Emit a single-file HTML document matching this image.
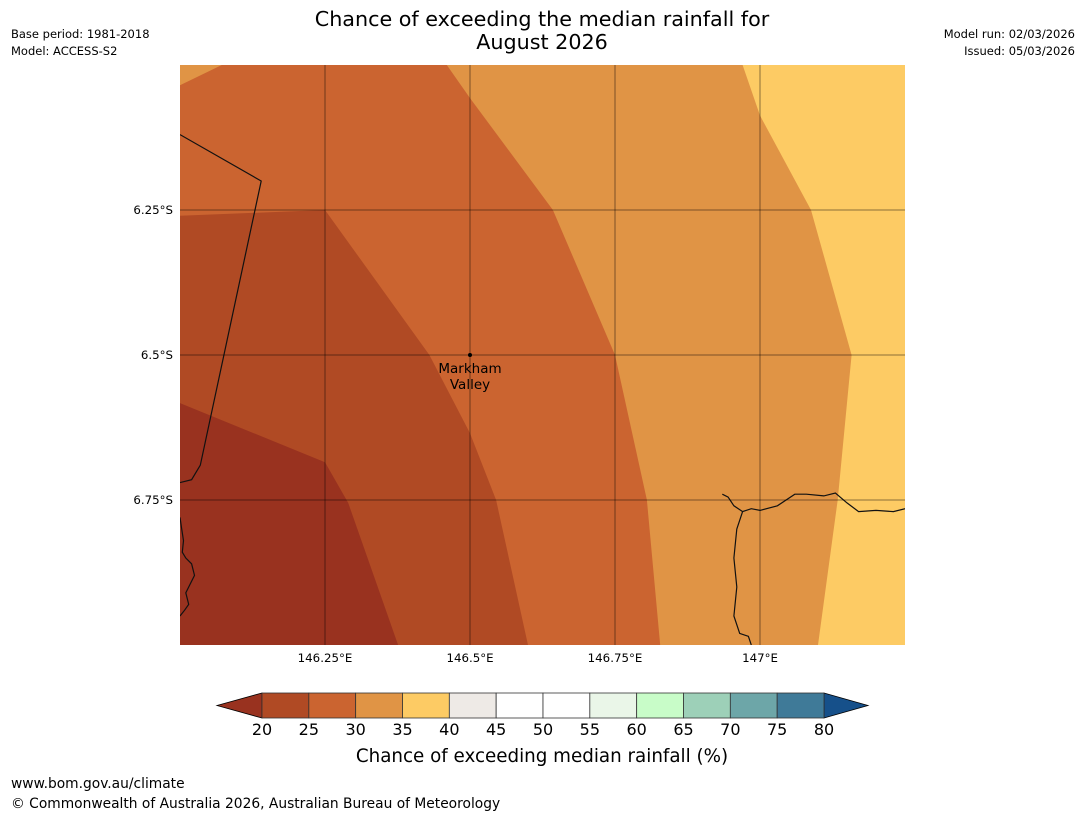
<!DOCTYPE html>
<html><head><meta charset="utf-8">
<style>
html,body{margin:0;padding:0;background:#fff;}
body{width:1085px;height:816px;overflow:hidden;font-family:"Liberation Sans","DejaVu Sans",sans-serif;}
svg text{font-family:"DejaVu Sans","Liberation Sans",sans-serif;}
</style></head>
<body>
<svg id="chart" width="1085" height="816" viewBox="0 0 1085 816" xmlns="http://www.w3.org/2000/svg">
<text x="542" y="26" font-size="20.7" text-anchor="middle">Chance of exceeding the median rainfall for</text>
<text x="542" y="49" font-size="20.7" text-anchor="middle">August 2026</text>
<text x="11" y="38" font-size="11.5">Base period: 1981-2018</text>
<text x="11" y="55" font-size="11.5">Model: ACCESS-S2</text>
<text x="1075" y="38" font-size="11.5" text-anchor="end">Model run: 02/03/2026</text>
<text x="1075" y="55" font-size="11.5" text-anchor="end">Issued: 05/03/2026</text>
<defs><clipPath id="mapclip"><rect x="180" y="65" width="725" height="580"/></clipPath></defs>
<g id="map" clip-path="url(#mapclip)"></g>
<g id="axes"></g>
<g id="cbar"></g>
<text x="542" y="762" font-size="18.3" text-anchor="middle">Chance of exceeding median rainfall (%)</text>
<text x="11" y="788" font-size="13.8">www.bom.gov.au/climate</text>
<text x="11" y="808" font-size="13.8">© Commonwealth of Australia 2026, Australian Bureau of Meteorology</text>
</svg>
<script>
const lonTicks=[146.25,146.5,146.75,147];
const lonLabels=["146.25°E","146.5°E","146.75°E","147°E"];
const latTicks=[6.25,6.5,6.75];
const latLabels=["6.25°S","6.5°S","6.75°S"];
// contour boundaries [lon, latS]
const b20=[[146,6.583],[146.25,6.685],[146.29,6.755],[146.376,7.0]];
const b25=[[146,6.26],[146.25,6.25],[146.43,6.5],[146.5,6.635],[146.545,6.75],[146.6,7.0]];
const b30=[[146.46,6.0],[146.5,6.057],[146.643,6.25],[146.75,6.5],[146.805,6.75],[146.828,7.0]];
const b35=[[146.97,6.0],[147,6.087],[147.088,6.25],[147.158,6.5],[147.134,6.75],[147.1,7.0]];
const topLeftPatch=[[146,6.0],[146.072,6.0],[146,6.035]];
const bandColors=["#99321f","#b04a24","#cb6430","#e09445","#fdcb64"];
const cbColors=["#b04a24","#cb6430","#e09445","#fdcb64","#eeeae6","#ffffff","#ffffff","#eaf6e8","#c8fcc8","#9dd0b8","#6da6a8","#3f7a98"];
const cbTicks=[20,25,30,35,40,45,50,55,60,65,70,75,80];
const cbLow="#99321f", cbHigh="#16508a";
const placeLon=146.5, placeLat=6.5;
const border=[[146,6.12],[146.14,6.2],[146.035,6.69],[146.02,6.715],[146.0,6.72]];
const coastL=[[146,6.78],[146.003,6.80],[146.006,6.82],[146.004,6.84],[146.01,6.85],[146.02,6.86],[146.025,6.88],[146.015,6.90],[146.01,6.91],[146.015,6.93],[146.008,6.94],[146,6.95]];
const coastR=[[146.935,6.74],[146.945,6.745],[146.955,6.76],[146.97,6.77],[146.985,6.765],[147.0,6.768],[147.03,6.76],[147.06,6.74],[147.08,6.74],[147.11,6.743],[147.13,6.738],[147.15,6.755],[147.17,6.77],[147.2,6.768],[147.23,6.77],[147.25,6.765]];
const coastR2=[[146.97,6.77],[146.96,6.80],[146.955,6.85],[146.96,6.90],[146.955,6.95],[146.965,6.98],[146.98,6.985],[146.985,7.0]];

const NS="http://www.w3.org/2000/svg";
function lonToX(lon){return 180+(lon-146)*580;}
function latToY(lat){return 65+(lat-6)*580;}
function mk(t,a,p){const e=document.createElementNS(NS,t);for(const k in a)e.setAttribute(k,a[k]);p.appendChild(e);return e;}
function pts(arr){return arr.map(p=>lonToX(p[0]).toFixed(1)+","+latToY(p[1]).toFixed(1)).join(" ");}
const map=document.getElementById('map'), axes=document.getElementById('axes'), cb=document.getElementById('cbar');
let r=mk('rect',{x:180,y:65,width:725,height:580,fill:bandColors[4]},map);


const bounds=[b35,b30,b25,b20];
const names=['band-35-40','band-30-35','band-25-30','band-20-25'];
const cols=[bandColors[3],bandColors[2],bandColors[1],bandColors[0]];
bounds.forEach((b,i)=>{
  const poly=[[146,6.0]].concat(b).concat([[146,7.0]]);
  if(b[0][1]>6.0) poly.splice(1,0,[146,b[0][1]]);
  const e=mk('polygon',{points:pts(poly),fill:cols[i]},map);
  
  
});
let tp=mk('polygon',{points:pts(topLeftPatch),fill:bandColors[3]},map);


[[border,'state-border'],[coastL,'coastline-west'],[coastR,'coastline-east'],[coastR2,'river-east']].forEach(c=>{
  const e=mk('polyline',{points:pts(c[0]),fill:'none',stroke:'#111','stroke-width':1.2},map);
  
  
});
lonTicks.forEach((v,i)=>{
  const x=lonToX(v);
  const g=mk('line',{x1:x,y1:65,x2:x,y2:645,stroke:'#000','stroke-opacity':0.45,'stroke-width':1},map);
  
  
  const t=mk('text',{x:x,y:662,'font-size':11.8,'text-anchor':'middle'},axes);t.textContent=lonLabels[i];
  
  
});
latTicks.forEach((v,i)=>{
  const y=latToY(v);
  const g=mk('line',{x1:180,y1:y,x2:905,y2:y,stroke:'#000','stroke-opacity':0.45,'stroke-width':1},map);
  
  
  const t=mk('text',{x:173,y:y+4,'font-size':11.8,'text-anchor':'end'},axes);t.textContent=latLabels[i];
  
  
});
const px=lonToX(placeLon), py=latToY(placeLat);
let d=mk('circle',{cx:px,cy:py,r:2,fill:'#000'},axes);


let l1=mk('text',{x:px,y:py+18,'font-size':13.5,'text-anchor':'middle'},axes);l1.textContent='Markham';


let l2=mk('text',{x:px,y:py+34,'font-size':13.5,'text-anchor':'middle'},axes);l2.textContent='Valley';


const cbX0=262, cbX1=824, cbY0=693, cbY1=718, cbMid=(cbY0+cbY1)/2;
const vmin=cbTicks[0], vmax=cbTicks[cbTicks.length-1];
function cbx(v){return cbX0+(v-vmin)/(vmax-vmin)*(cbX1-cbX0);}
let lt=mk('polygon',{points:`${cbX0},${cbY0} ${cbX0},${cbY1} 217,${cbMid}`,fill:cbLow,stroke:'#000','stroke-width':0.8},cb);


let rt=mk('polygon',{points:`${cbX1},${cbY0} ${cbX1},${cbY1} 868,${cbMid}`,fill:cbHigh,stroke:'#000','stroke-width':0.8},cb);


cbColors.forEach((c,i)=>{
  const x0=cbx(cbTicks[i]), x1=cbx(cbTicks[i+1]);
  const e=mk('rect',{x:x0,y:cbY0,width:x1-x0,height:cbY1-cbY0,fill:c,stroke:'#333','stroke-width':0.8},cb);
  
  
});
cbTicks.forEach(v=>{
  const t=mk('text',{x:cbx(v),y:735,'font-size':16,'text-anchor':'middle'},cb);t.textContent=v;
  
  
});
</script>
</body></html>
